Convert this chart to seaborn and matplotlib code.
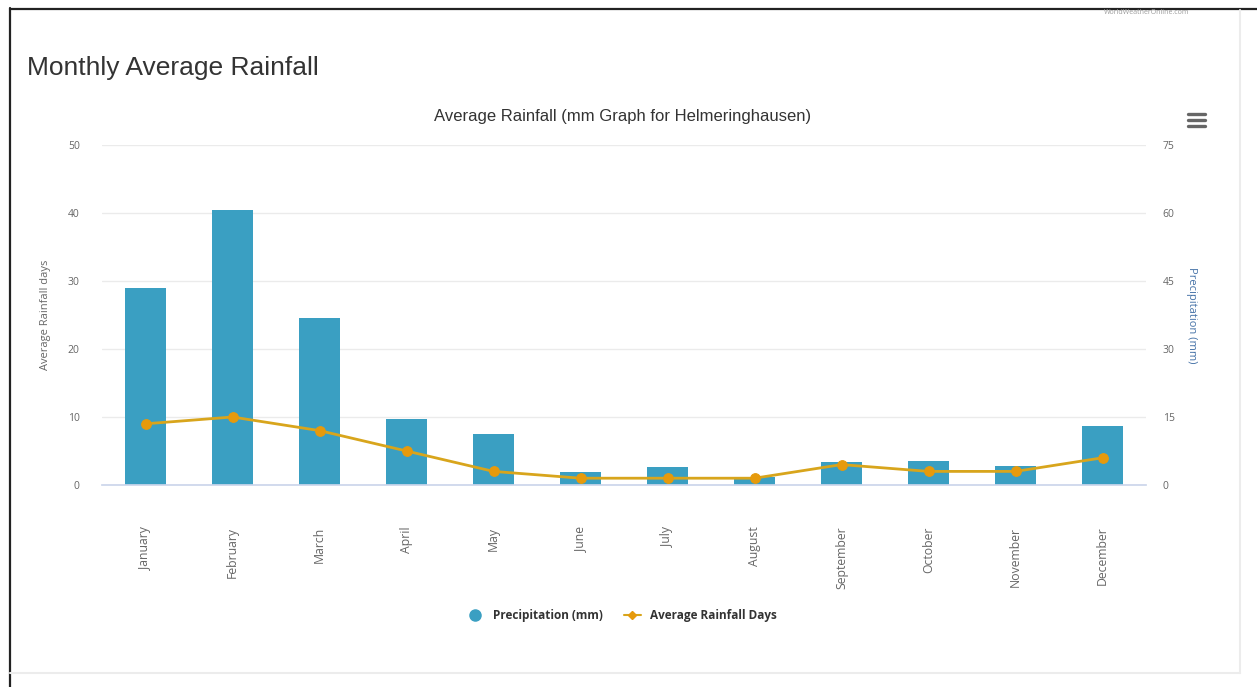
import matplotlib
matplotlib.use("Agg")
import matplotlib.pyplot as plt
from matplotlib.lines import Line2D
import seaborn as sns
import pandas as pd

months = ["January", "February", "March", "April", "May", "June", "July",
          "August", "September", "October", "November", "December"]
precip_mm = [43.5, 60.7, 36.8, 14.5, 11.2, 2.9, 3.9, 1.7, 5.1, 5.4, 4.2, 13.0]
rain_days = [9, 10, 8, 5, 2, 1, 1, 1, 3, 2, 2, 4]

left_ticks = [0, 10, 20, 30, 40, 50]
right_ticks = [0, 15, 30, 45, 60, 75]

BAR = "#3a9fc2"
LINE = "#d8a51c"
MARK = "#e69a0c"
TXT = "#666666"

sns.set_theme(style="white")
plt.rcParams["font.family"] = ["Open Sans", "DejaVu Sans"]

W, H = 1257, 687
fig = plt.figure(figsize=(W / 100, H / 100), dpi=100)
fig.patch.set_facecolor("white")

def fx(x):
    return x / W

def fy(y):
    return 1 - y / H

# Page frame and card edges
fig.add_artist(Line2D([fx(10), 1], [fy(9), fy(9)], color="#222222", lw=1.6))
fig.add_artist(Line2D([fx(10), fx(10)], [fy(8), 0], color="#222222", lw=1.6))
fig.add_artist(Line2D([fx(1240), fx(1240)], [fy(10), fy(673)], color="#ececec", lw=1.5))
fig.add_artist(Line2D([fx(10), fx(1240)], [fy(673), fy(673)], color="#ececec", lw=1.5))

ax = fig.add_axes([fx(102), fy(485), fx(1146 - 102), (485 - 145) / H])
ax2 = ax.twinx()

df = pd.DataFrame({"month": months, "precip": precip_mm, "days": rain_days})

# Horizontal grid below the bars
ax2.grid(False)
ax.grid(False)
for t in right_ticks:
    ax2.axhline(t, color="#ebebeb", lw=1, zorder=0)

# Precipitation bars on the right (mm) axis
sns.barplot(data=df, x="month", y="precip", ax=ax2, color=BAR, width=0.46,
            saturation=1, edgecolor="none", zorder=2)
ax2.set_ylim(0, 75)
ax2.set_yticks(right_ticks)

# Rainfall days line on the left axis, drawn above the bars
ax.set_zorder(ax2.get_zorder() + 1)
ax.patch.set_visible(False)
sns.lineplot(x=list(range(len(months))), y=rain_days, ax=ax, color=LINE, lw=2,
             marker="o", markersize=7, markerfacecolor=MARK,
             markeredgecolor=MARK)
ax.set_ylim(0, 50)
ax.set_yticks(left_ticks)
ax.set_xlim(-0.5, len(months) - 0.5)
ax.set_xticks(range(len(months)))
ax.set_xticklabels(months, rotation=90, fontsize=8.8, color=TXT, va="top")
ax.tick_params(axis="x", length=0, pad=30)
ax.tick_params(axis="y", length=0, labelsize=7.5, labelcolor=TXT, pad=16)
ax2.tick_params(axis="y", length=0, labelsize=7.5, labelcolor=TXT, pad=12)
ax2.set_xlabel("")
ax.set_xlabel("")

for a in (ax, ax2):
    for s in a.spines.values():
        s.set_visible(False)
ax.spines["bottom"].set_visible(True)
ax.spines["bottom"].set_color("#ccd6eb")

ax.set_ylabel("Average Rainfall days", fontsize=8, color=TXT, labelpad=12)
ax2.set_ylabel("Precipitation (mm)", fontsize=8, color="#4572a7",
               rotation=-90, labelpad=16)

# Titles
fig.text(fx(27), fy(68), "Monthly Average Rainfall", fontsize=19,
         color="#333333", va="center", ha="left",
         family=["Liberation Sans", "DejaVu Sans"])
fig.text(fx(623), fy(116), "Average Rainfall (mm Graph for Helmeringhausen)",
         fontsize=12, color="#333333", va="center", ha="center",
         family=["Liberation Sans", "DejaVu Sans"])
fig.text(fx(1147), fy(13), "WorldWeatherOnline.com", fontsize=5,
         color="#9a9a9a", va="center", ha="center")

# Menu icon
for yy in (114, 120, 126):
    fig.add_artist(Line2D([fx(1188), fx(1205)], [fy(yy), fy(yy)],
                          color="#666666", lw=2.4))

# Legend
handles = [
    Line2D([], [], color=BAR, marker="o", ls="none", markersize=8),
    Line2D([], [], color=LINE, marker="D", markerfacecolor=MARK,
           markeredgecolor=MARK, markersize=4, lw=1.5),
]
fig.legend(handles, ["Precipitation (mm)", "Average Rainfall Days"],
           loc="center", bbox_to_anchor=(fx(622), fy(616)), ncol=2,
           frameon=False, handlelength=1.4, columnspacing=1.8,
           prop={"weight": "bold", "size": 8.5})
for t in fig.legends[0].get_texts():
    t.set_color("#333333")

fig.savefig("out.png", dpi=100, facecolor="white")
